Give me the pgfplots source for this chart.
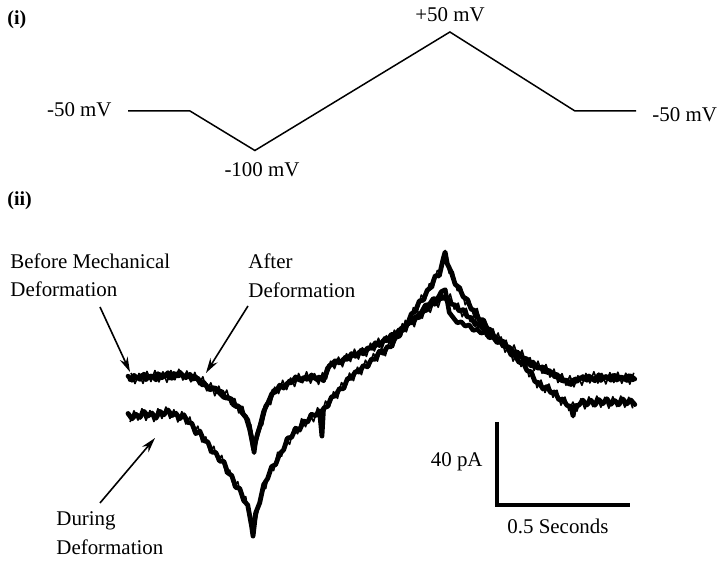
\documentclass[border=0pt]{standalone}
\usepackage{pgfplots}
\pgfplotsset{compat=1.18}
\usepackage{fontspec}
\setmainfont{Liberation Serif}
\usetikzlibrary{arrows.meta}

\begin{document}
\begin{tikzpicture}[font=\fontsize{10.5}{12}\selectfont]
\useasboundingbox (0,0) rectangle (358.5bp,281.5bp);
\pgfplotsset{
  panel/.style={at={(0,0)}, anchor=south west, scale only axis,
    width=358.5bp, height=281.5bp, hide axis, clip=false,
    xmin=-481.2, xmax=2214.1},
  trace/.style={black, line width=2.3bp, line join=round, line cap=round},
  noise/.style={black, line width=0.8bp, line join=round},
}

% (i) voltage protocol: time in ms, potential in mV
\begin{axis}[panel, ymin=-622.15, ymax=90.51]
\addplot[black, line width=0.75bp] coordinates
  {(0,-50) (233,-50) (477,-100) (1210,50) (1680,-50) (1910,-50)};
\end{axis}

% (ii) membrane current: time in ms, current in pA
\begin{axis}[panel, ymin=-89.16, ymax=182.17]
% before mechanical deformation
\addplot[trace] coordinates {
(0,0.9) (15,-1.1) (30,0.6) (45,-0.7) (60,1.9) (75,0.0) (90,1.1) (105,-0.9) (120,1.7) (135,0.7)
(150,2.6) (165,-0.2) (180,1.5) (195,2.8) (210,0.6) (225,1.4) (240,-0.7) (255,0.5) (270,-2.2) (285,-2.0)
(300,-5.1) (315,-4.6) (330,-4.9) (345,-7.4) (360,-9.4) (375,-9.3) (390,-10.2) (405,-13.8) (420,-13.9) (435,-17.8)
(450,-20.1) (465,-28.8) (474,-36.0) (480,-30.1) (495,-23.6) (510,-16.0) (525,-12.3) (540,-7.6) (555,-6.7) (570,-3.4)
(585,-4.9) (600,-2.3) (615,-2.3) (630,0.6) (645,-1.2) (660,0.2) (675,-0.8) (690,1.5) (705,-0.5) (720,0.6)
(735,-1.4) (750,4.8) (765,6.7) (780,8.5) (795,7.1) (810,9.1) (825,9.0) (840,11.8) (855,10.4) (870,12.6)
(885,11.6) (900,14.5) (915,14.4) (930,17.0) (945,15.6) (960,18.0) (975,18.0) (990,21.1) (1005,20.7) (1020,23.4)
(1035,22.8) (1050,26.5) (1065,26.6) (1080,29.6) (1095,29.0) (1110,32.1) (1125,32.8) (1140,36.0) (1155,35.5) (1170,38.2)
(1185,38.4) (1200,39.1) (1215,35.6) (1230,35.2) (1245,32.2) (1260,33.0) (1275,29.5) (1290,29.1) (1305,25.7) (1320,26.5)
(1335,23.6) (1350,23.4) (1365,19.8) (1380,20.0) (1395,17.4) (1410,17.9) (1425,14.5) (1440,14.2) (1455,11.5) (1470,11.9)
(1485,9.2) (1500,9.3) (1515,5.8) (1530,6.6) (1545,4.6) (1560,5.5) (1575,2.6) (1590,3.0) (1605,0.4) (1620,1.1)
(1635,-1.6) (1650,-1.0) (1665,-3.2) (1680,-0.4) (1695,-0.9) (1710,0.7) (1725,-1.1) (1740,0.5) (1755,-1.4) (1770,1.6)
(1785,-0.3) (1800,0.8) (1815,-1.1) (1830,1.3) (1845,-0.6) (1860,0.4) (1875,-1.2) (1890,1.0) (1905,-0.5)
};
% after deformation
\addplot[trace] coordinates {
(7.5,-0.8) (22.5,1.3) (37.5,-0.2) (52.5,1.3) (67.5,-0.8) (82.5,1.0) (97.5,0.3) (112.5,2.1) (127.5,0.1) (142.5,1.6)
(157.5,0.0) (172.5,2.2) (187.5,0.9) (202.5,1.8) (217.5,0.1) (232.5,1.8) (247.5,-0.4) (262.5,0.0) (277.5,-3.3) (292.5,-3.2)
(307.5,-5.8) (322.5,-4.8) (337.5,-6.8) (352.5,-6.4) (367.5,-9.7) (382.5,-9.8) (397.5,-13.2) (412.5,-13.3) (427.5,-16.7) (442.5,-18.6)
(457.5,-24.9) (472.5,-34.5) (487.5,-26.5) (502.5,-20.8) (517.5,-13.6) (532.5,-10.8) (547.5,-6.0) (562.5,-5.8) (577.5,-3.7) (592.5,-4.2)
(607.5,-1.3) (622.5,-1.7) (637.5,0.3) (652.5,-1.4) (667.5,0.6) (682.5,-0.4) (697.5,1.0) (712.5,-1.1) (727.5,0.3) (742.5,1.2)
(757.5,6.2) (772.5,6.5) (787.5,8.3) (802.5,7.2) (817.5,10.2) (832.5,9.7) (847.5,11.6) (862.5,10.7) (877.5,13.6) (892.5,12.8)
(907.5,14.6) (922.5,14.3) (937.5,17.0) (952.5,16.8) (967.5,19.3) (982.5,18.6) (997.5,21.1) (1012.5,20.9) (1027.5,24.1) (1042.5,24.2)
(1057.5,27.3) (1072.5,26.8) (1087.5,29.9) (1102.5,31.6) (1117.5,35.1) (1132.5,35.5) (1147.5,38.3) (1162.5,38.0) (1177.5,41.6) (1192.5,42.6)
(1207.5,31.6) (1222.5,29.1) (1237.5,26.6) (1252.5,27.1) (1267.5,25.0) (1282.5,25.6) (1297.5,22.9) (1312.5,23.5) (1327.5,21.6) (1342.5,22.2)
(1357.5,19.4) (1372.5,19.7) (1387.5,17.0) (1402.5,17.6) (1417.5,15.0) (1432.5,15.0) (1447.5,12.0) (1462.5,12.7) (1477.5,10.0) (1492.5,9.5)
(1507.5,6.6) (1522.5,7.7) (1537.5,4.8) (1552.5,5.1) (1567.5,2.8) (1582.5,3.8) (1597.5,1.4) (1612.5,1.8) (1627.5,-1.2) (1642.5,-0.9)
(1657.5,-2.9) (1672.5,-1.0) (1687.5,-1.7) (1702.5,0.3) (1717.5,-0.8) (1732.5,1.0) (1747.5,-0.9) (1762.5,0.5) (1777.5,-1.2) (1792.5,0.8)
(1807.5,-0.3) (1822.5,1.2) (1837.5,-1.0) (1852.5,0.6) (1867.5,-0.7) (1882.5,1.1) (1897.5,-0.9)
};
% recording noise on the before/after traces
\addplot[noise] coordinates {
(11.25,2.4) (26.25,-2.7) (41.25,2.2) (56.25,-2.6) (71.25,3.2) (86.25,-1.7) (101.25,3.6) (116.25,-1.9) (131.25,3.0) (146.25,-2.1)
(161.25,3.6) (176.25,-0.9) (191.25,4.2) (206.25,-1.0) (221.25,3.4) (236.25,-1.9) (251.25,2.7) (266.25,-3.2) (281.25,0.6) (296.25,-6.2)
(311.25,-2.3) (326.25,-8.6) (341.25,-3.9) (356.25,-9.6) (371.25,-5.8) (386.25,-12.8) (401.25,-9.9) (416.25,-16.8) (431.25,-13.7) (446.25,-21.2)
(461.25,-22.3) (476.25,-34.0) (491.25,-24.5) (506.25,-22.6) (521.25,-12.0) (536.25,-12.8) (551.25,-4.4) (566.25,-7.5) (581.25,-1.1) (596.25,-5.6)
(611.25,0.0) (626.25,-4.1) (641.25,2.2) (656.25,-2.3) (671.25,3.0) (686.25,-2.5) (701.25,2.1) (716.25,-3.1) (731.25,2.6) (746.25,-0.4)
(761.25,8.1) (776.25,4.5) (791.25,10.1) (806.25,5.4) (821.25,11.7) (836.25,7.9) (851.25,13.9) (866.25,9.1) (881.25,14.6) (896.25,10.4)
(911.25,16.8) (926.25,13.0) (941.25,19.2) (956.25,14.6) (971.25,20.4) (986.25,16.5) (1001.25,23.1) (1016.25,19.6) (1031.25,26.2) (1046.25,22.2)
(1061.25,28.6) (1076.25,24.7) (1091.25,31.8) (1106.25,28.8) (1121.25,35.6) (1136.25,31.6) (1151.25,37.9) (1166.25,34.1) (1181.25,40.7) (1196.25,36.2)
(1211.25,40.5) (1226.25,33.2) (1241.25,36.1) (1256.25,29.5) (1271.25,33.6) (1286.25,27.1) (1301.25,30.6) (1316.25,23.7) (1331.25,27.0) (1346.25,20.1)
(1361.25,24.2) (1376.25,18.0) (1391.25,21.7) (1406.25,14.8) (1421.25,18.2) (1436.25,11.8) (1451.25,15.9) (1466.25,9.6) (1481.25,13.4) (1496.25,6.4)
(1511.25,9.8) (1526.25,3.6) (1541.25,8.1) (1556.25,2.3) (1571.25,6.5) (1586.25,0.4) (1601.25,4.3) (1616.25,-2.2) (1631.25,2.1) (1646.25,-3.5)
(1661.25,1.1) (1676.25,-4.3) (1691.25,1.1) (1706.25,-3.5) (1721.25,2.2) (1736.25,-2.4) (1751.25,3.0) (1766.25,-2.5) (1781.25,2.2) (1796.25,-2.9)
(1811.25,2.6) (1826.25,-2.2) (1841.25,2.8) (1856.25,-2.6) (1871.25,2.3) (1886.25,-3.0) (1901.25,2.5)
};
% during deformation
\addplot[trace, line width=2.4bp] coordinates {
(0,-17.1) (15,-19.7) (30,-17.5) (45,-19.0) (60,-16.1) (75,-18.3) (90,-16.9) (105,-19.4) (120,-16.1) (135,-17.7)
(150,-15.4) (165,-18.1) (180,-17.0) (195,-19.6) (210,-17.7) (225,-21.4) (240,-21.8) (255,-26.8) (270,-25.6) (285,-30.2)
(300,-30.8) (315,-35.7) (330,-35.9) (345,-40.1) (360,-40.1) (375,-45.7) (390,-47.0) (405,-52.7) (420,-53.2) (435,-59.1)
(450,-61.2) (465,-71.7) (470,-76.2) (480,-65.0) (495,-60.2) (510,-51.4) (525,-48.4) (540,-42.7) (555,-41.7) (570,-36.6)
(585,-34.6) (600,-28.9) (615,-28.6) (630,-24.2) (645,-25.1) (660,-20.8) (675,-21.3) (690,-17.5) (705,-18.2) (720,-15.8)
(729,-28.0) (735,-14.5) (750,-13.7) (765,-9.1) (780,-8.6) (795,-5.1) (810,-5.2) (825,-0.3) (840,-0.1) (855,3.1)
(870,2.9) (885,6.1) (900,5.4) (915,9.1) (930,9.1) (945,12.9) (960,11.9) (975,15.1) (990,15.1) (1005,19.5)
(1020,20.2) (1035,25.0) (1050,25.7) (1065,30.9) (1080,32.1) (1095,37.1) (1110,37.5) (1125,42.3) (1140,43.8) (1155,49.3)
(1170,49.2) (1185,57.5) (1192,60.7) (1200,55.1) (1215,51.1) (1230,45.1) (1245,43.6) (1260,39.1) (1275,37.9) (1290,33.2)
(1305,32.4) (1320,28.0) (1335,28.1) (1350,23.9) (1365,23.1) (1380,18.6) (1395,18.8) (1410,15.4) (1425,15.3) (1440,11.1)
(1455,10.8) (1470,7.5) (1485,7.7) (1500,3.5) (1515,3.0) (1530,-1.8) (1545,-2.3) (1560,-5.3) (1575,-4.1) (1590,-7.2)
(1605,-6.7) (1620,-10.6) (1635,-10.1) (1650,-13.2) (1665,-13.7) (1673,-18.3) (1680,-13.4) (1695,-13.1) (1710,-10.7) (1725,-13.0)
(1740,-10.7) (1755,-13.1) (1770,-10.4) (1785,-12.4) (1800,-10.0) (1815,-12.7) (1830,-10.9) (1845,-12.9) (1860,-10.1) (1875,-12.5)
(1890,-10.6) (1905,-12.8)
};
% recording noise on the during trace
\addplot[noise] coordinates {
(7.5,-21.2) (22.5,-15.8) (37.5,-20.3) (52.5,-14.8) (67.5,-20.4) (82.5,-15.7) (97.5,-21.0) (112.5,-14.8) (127.5,-19.5) (142.5,-14.0)
(157.5,-19.5) (172.5,-15.3) (187.5,-21.2) (202.5,-16.2) (217.5,-22.2) (232.5,-18.8) (247.5,-26.5) (262.5,-23.2) (277.5,-30.8) (292.5,-28.4)
(307.5,-36.0) (322.5,-32.9) (337.5,-40.1) (352.5,-37.3) (367.5,-46.0) (382.5,-44.4) (397.5,-52.6) (412.5,-49.9) (427.5,-58.3) (442.5,-57.2)
(457.5,-69.0) (472.5,-73.5) (487.5,-65.0) (502.5,-53.2) (517.5,-53.3) (532.5,-43.6) (547.5,-44.6) (562.5,-35.8) (577.5,-37.7) (592.5,-29.1)
(607.5,-32.0) (622.5,-24.2) (637.5,-26.9) (652.5,-19.6) (667.5,-23.5) (682.5,-17.3) (697.5,-21.1) (712.5,-14.3) (727.5,-18.1) (742.5,-11.1)
(757.5,-13.8) (772.5,-6.6) (787.5,-9.8) (802.5,-2.2) (817.5,-4.9) (832.5,2.4) (847.5,-1.3) (862.5,5.2) (877.5,1.6) (892.5,8.6)
(907.5,5.3) (922.5,11.8) (937.5,8.1) (952.5,14.6) (967.5,10.7) (982.5,17.8) (997.5,14.9) (1012.5,22.7) (1027.5,20.2) (1042.5,27.8)
(1057.5,25.4) (1072.5,33.9) (1087.5,32.0) (1102.5,40.0) (1117.5,37.5) (1132.5,45.4) (1147.5,43.5) (1162.5,51.8) (1177.5,51.5) (1192.5,59.0)
(1207.5,50.4) (1222.5,51.1) (1237.5,42.1) (1252.5,43.8) (1267.5,35.3) (1282.5,38.0) (1297.5,30.8) (1312.5,33.5) (1327.5,25.7) (1342.5,28.1)
(1357.5,20.4) (1372.5,23.6) (1387.5,16.6) (1402.5,19.8) (1417.5,12.4) (1432.5,15.3) (1447.5,8.1) (1462.5,12.0) (1477.5,5.5) (1492.5,8.4)
(1507.5,0.6) (1522.5,3.0) (1537.5,-4.7) (1552.5,-1.0) (1567.5,-7.0) (1582.5,-2.9) (1597.5,-9.3) (1612.5,-5.9) (1627.5,-13.1) (1642.5,-9.2)
(1657.5,-15.7) (1672.5,-11.6) (1687.5,-16.0) (1702.5,-10.0) (1717.5,-14.9) (1732.5,-9.1) (1747.5,-13.8) (1762.5,-8.7) (1777.5,-14.1) (1792.5,-9.3)
(1807.5,-14.6) (1822.5,-9.0) (1837.5,-13.8) (1852.5,-8.7) (1867.5,-14.1) (1882.5,-9.3) (1897.5,-14.6)
};
% scale bar: 40 pA by 500 ms
\addplot[black, line width=1.6bp, line join=miter] coordinates
  {(1387,-21.2) (1387,-61.2) (1887,-61.2)};
\end{axis}

% labels and arrows, placed on a pixel grid (origin top left)
\begin{scope}[shift={(0,281.5bp)}, x=0.5bp, y=-0.5bp,
  every node/.style={inner sep=0pt},
  pointer/.style={-{Stealth[length=7.5bp,width=4.2bp]}, line width=0.8bp}]
\node[anchor=base west, font=\bfseries] at (7,25) {(i)};
\node[anchor=base] at (450,22) {+50 mV};
\node[anchor=base east] at (112,117) {-50 mV};
\node[anchor=base] at (262,177) {-100 mV};
\node[anchor=base west] at (652,122) {-50 mV};
\node[anchor=base west, font=\bfseries] at (7,206) {(ii)};
\node[anchor=base west] at (10,269) {Before Mechanical};
\node[anchor=base west] at (10,297) {Deformation};
\node[anchor=base west] at (248,269) {After};
\node[anchor=base west] at (248,298) {Deformation};
\node[anchor=base west] at (56,526) {During};
\node[anchor=base west] at (56,555) {Deformation};
\node[anchor=base east] at (483,467) {40 pA};
\node[anchor=base] at (558,534) {0.5 Seconds};
\draw[pointer] (100,307) -- (130,372);
\draw[pointer] (248,306) -- (206,373);
\draw[pointer] (100,503) -- (155,438);
\end{scope}
\end{tikzpicture}
\end{document}
